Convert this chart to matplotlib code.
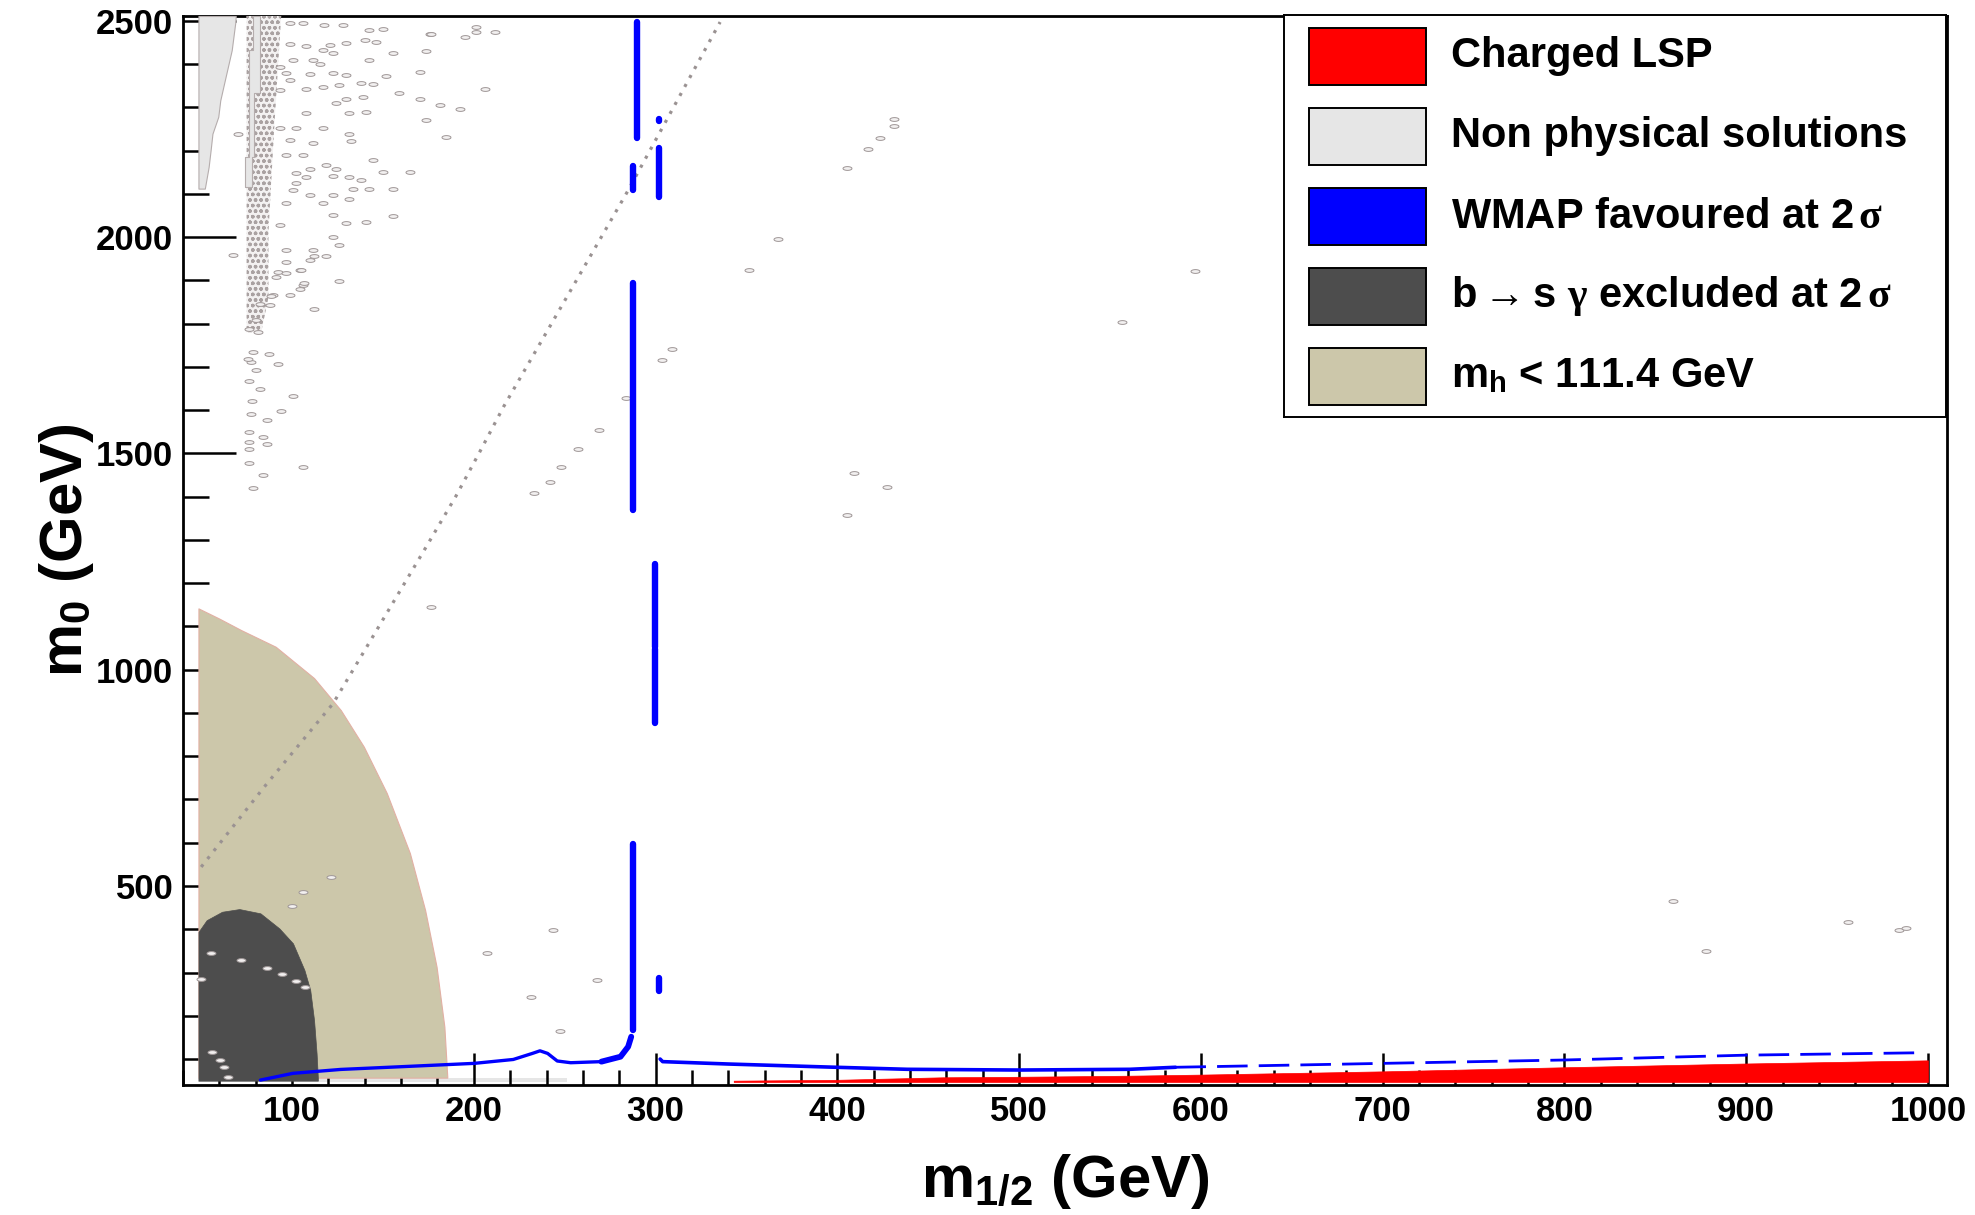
import numpy as np
import matplotlib
matplotlib.use('Agg')
import matplotlib.pyplot as plt
from matplotlib.patches import Rectangle
from matplotlib.path import Path
from matplotlib.ticker import MultipleLocator

plt.rcParams['font.family'] = ['Liberation Sans', 'DejaVu Sans']
plt.rcParams['font.weight'] = 'bold'
plt.rcParams['mathtext.fontset'] = 'custom'
plt.rcParams['mathtext.rm'] = 'Liberation Serif'
plt.rcParams['mathtext.it'] = 'Liberation Serif:italic'
plt.rcParams['mathtext.bf'] = 'Liberation Sans:bold'

# ---- data (GeV) ----
# m_h < 111.4 GeV region, upper boundary
mh_x = [48.5, 60, 72, 91, 112.1, 126.8, 139.5, 152.1, 164.8, 173.2, 179.5, 183.8, 185.4]
mh_y = [1141.7, 1118, 1091.5, 1053, 980.6, 906.6, 821.8, 714.8, 576.2, 444.4, 313.4, 174.7, 59]

# b -> s gamma excluded region, upper boundary
bsg_x = [48.5, 53, 61.5, 71, 82.6, 93, 100.5, 106.8, 110, 112.1, 113.5, 114.2]
bsg_y = [394, 421, 440.5, 446.7, 436.8, 402, 367.5, 305.8, 259.5, 190, 113, 55.5]

# non physical solutions: left column (right edge vs m0)
np1_y = [2112, 2162, 2201, 2239, 2278, 2316, 2355, 2432, 2497, 2511]
np1_x = [52, 54.1, 55.2, 56.2, 59.4, 60.5, 62.6, 66.8, 68.8, 69]
# second column
np2_y = [2116, 2185, 2332, 2432, 2511]
np2_l = [74.3, 76.2, 76.2, 78.4, 78.4]
np2_r = [78, 79.3, 82.1, 82.1, 82.1]
# dense speckled strip
dense_y = [1780, 1860, 2010, 2240, 2511]
dense_r = [83, 87, 87, 90, 94]
# thin strip along the bottom
np3_x = [48.5, 251]

# charged LSP region
red_x = [343, 400, 458, 500, 561, 600, 700, 800, 900, 1000]
red_y = [50, 52, 57.8, 59, 61.5, 64, 71.5, 81, 89.7, 97]

# WMAP favoured: vertical bands (x, low, high)
wmap_bar_x = [289.8, 287.7, 301.7, 301.7, 287.8, 299.7, 299.7, 287.8, 301.7]
wmap_bar_lo = [2228, 2108, 2093, 2269, 1368, 876, 1052, 167, 258]
wmap_bar_hi = [2497, 2165, 2206, 2274, 1893, 1048, 1244, 596, 287]
# WMAP favoured: thin branch at low m0
wmap_lo_x = [82.6, 100.5, 126.8, 158.5, 200.2, 221.7, 232.2, 236.4, 240.6, 245.9, 253.3, 270.2, 280.7, 284.9, 286.6]
wmap_lo_y = [51.4, 67, 76, 82, 90, 99, 113, 119, 113, 95.5, 91.5, 94, 105.4, 128.5, 151.6]
wmap_hi_x = [302.5, 303.9, 340, 399, 438.4, 500, 561, 586]
wmap_hi_y = [100, 94, 88.5, 81, 76.3, 74.6, 76.3, 81]
wmap_dash_x = [586, 625, 700, 800, 900, 997]
wmap_dash_y = [81, 84, 90, 97.8, 109, 114.6]

# dotted diagonal contour
diag_x = [50, 84.7, 122.6, 156.4, 173.8, 190, 203.2, 216.4, 253.3, 284.9, 335.5]
diag_y = [544, 729, 922, 1161, 1284, 1400, 1503, 1608, 1877, 2108, 2497]

# isolated scan artefacts
speck_x = [98.6, 105.9, 117.8, 127.9, 142.6, 150.0, 175.7, 194.9, 201.4, 201.4, 98.6, 107.8, 120.6,
           129.8, 139.9, 146.3, 155.5, 173.8, 122.4, 116.9, 100.4, 111.4, 115.1, 142.6, 93.1, 96.7,
           109.6, 122.4, 129.8, 151.8, 170.2, 98.6, 116.9, 126.1, 138.0, 144.5, 107.8, 93.1, 139.0,
           159.1, 170.2, 181.2, 192.2, 124.3, 129.8, 131.6, 140.8, 107.8, 173.8, 93.1, 102.2, 116.9,
           131.6, 184.8, 98.6, 111.4, 132.5, 96.7, 105.9, 144.5, 118.8, 124.3, 150.0, 164.7, 109.6,
           102.2, 107.8, 131.6, 138.0, 102.2, 122.4, 133.4, 142.6, 155.5, 100.4, 109.6, 122.4, 131.6,
           96.7, 116.9, 122.4, 155.5, 129.8, 140.8, 93.1, 122.4, 126.1, 96.7, 111.4, 118.8, 112.3,
           96.7, 109.6, 104.1, 91.2, 126.1, 105.9, 98.6, 89.4, 67.4, 70.1,
           105.0, 92.1, 96.4, 106.8, 104.1, 112.3, 82.1, 88.5, 87.9, 92.1, 87.2, 100.4, 94.0, 86.1,
           83.9, 86.1, 105.9, 83.9, 78.4, 77.5, 82.1, 80.2, 76.2, 76.2, 76.2, 76.2, 76.2, 78.0, 79.9,
           76.5, 81.1, 77.5, 78.4, 75.6,
           176.4, 211.8, 205.9, 309.1, 303.4, 283.9, 269.1, 257.5, 248, 241.7, 233.3,
           431.2, 431.2, 423.4, 417.1, 405.4, 367.1, 351.3, 596.8, 556.8, 409.3, 427.2, 405.3,
           176.4, 121.6, 105.8, 99.9, 243.8, 207.3, 267.6, 231.6, 247.6,
           55.2, 72, 86.4, 94.2, 102.2, 107.3, 50, 55.8, 60.5, 62.8, 64.7,
           860, 878, 955.8, 984.3, 987.8]
speck_y = [2494, 2494, 2490, 2490, 2478, 2480, 2470, 2463, 2473, 2486, 2447, 2441, 2443,
           2449, 2455, 2451, 2426, 2430, 2426, 2432, 2409, 2409, 2401, 2410, 2393, 2380,
           2377, 2380, 2374, 2373, 2382, 2363, 2346, 2351, 2356, 2353, 2343, 2340, 2324,
           2333, 2320, 2305, 2297, 2309, 2320, 2286, 2288, 2286, 2270, 2251, 2251, 2251,
           2238, 2232, 2224, 2218, 2222, 2189, 2189, 2179, 2166, 2158, 2151, 2151, 2158,
           2147, 2139, 2139, 2132, 2125, 2142, 2112, 2112, 2112, 2108, 2097, 2097, 2088,
           2078, 2079, 2051, 2048, 2033, 2035, 2028, 2001, 1981, 1971, 1970, 1956, 1956,
           1943, 1948, 1925, 1908, 1898, 1890, 1866, 1866, 1958, 2238,
           1925, 1920, 1916, 1893, 1881, 1833, 1845, 1863, 1843, 1706, 1729, 1633, 1599, 1578,
           1537, 1521, 1468, 1450, 1419, 1592, 1648, 1692, 1668, 1550, 1527, 1510, 1477, 1621, 1808,
           1788, 1781, 1712, 1735, 1718,
           2470, 2473, 2342, 1741, 1715, 1627, 1554, 1511, 1469, 1434, 1409,
           2273, 2256, 2229, 2204, 2160, 1995, 1924, 1921, 1804, 1455, 1422, 1358,
           1144, 520, 485, 454, 398, 344, 283, 244, 165,
           344, 329, 311, 296.5, 280, 267, 284, 115.5, 97, 81, 59,
           464.5, 349.5, 415.8, 398, 404]

leg_labels = ['Charged LSP', 'Non physical solutions', r'WMAP favoured at 2$\,\mathrm{\sigma}$',
              r'b $\!\!\mathrm{\rightarrow}\!\!$ s $\mathrm{\gamma}$ excluded at 2$\,\mathrm{\sigma}$',
              r'm$_\mathbf{h}$ < 111.4 GeV']
leg_colors = ['#ff0000', '#e6e6e6', '#0000ff', '#4d4d4d', '#ccc7aa']

W, H = 1975, 1215
fig = plt.figure(figsize=(W / 100, H / 100), dpi=100)
ax = fig.add_axes([183 / W, 1 - 1085 / H, (1947 - 183) / W, (1085 - 16) / H])
ax.set_xlim(40, 1010.5)
ax.set_ylim(40, 2511)

# regions
ax.fill_between(np3_x, 46, 57, color='#e6e6e6', lw=0, zorder=1)
ax.fill_between(mh_x, 57, mh_y, facecolor='#ccc7aa', edgecolor='#e2b0a4', lw=0.8, zorder=2)
ax.fill_between(bsg_x, 50, bsg_y, facecolor='#4d4d4d', edgecolor='#4d4d4d', lw=0.5, zorder=3)
ax.fill_betweenx(dense_y, 75, dense_r, facecolor='#f3f1f1', edgecolor='#aaa2a2', hatch='ooo',
                 lw=0, zorder=3)
ax.fill_betweenx(np1_y, 48.5, np1_x, facecolor='#e6e6e6', edgecolor='#b5adad', lw=0.8, zorder=3)
ax.fill_betweenx(np2_y, np2_l, np2_r, facecolor='#e6e6e6', edgecolor='#b5adad', lw=0.8,
                 step='post', zorder=3)
ax.fill_between(red_x, 47, red_y, facecolor='#ff0000', edgecolor='#ff0000', lw=0.5, zorder=3)

# artefacts and dotted contour
t = np.linspace(0, 2 * np.pi, 25)
ell = Path(np.c_[np.cos(t), 0.42 * np.sin(t)])
ax.plot(speck_x, speck_y, ls='none', marker=ell, ms=6.5, mfc='#f2f0f0', mec='#9e9696',
        mew=0.7, zorder=4)
ax.plot(diag_x, diag_y, color='#9a9292', lw=2.3, ls=(0, (1, 2.2)), zorder=4)

# WMAP
ax.vlines(wmap_bar_x, wmap_bar_lo, wmap_bar_hi, colors='#0000ff', lw=4.6, capstyle='round', zorder=5)
ax.plot(wmap_lo_x, wmap_lo_y, color='#0000ff', lw=2.4, solid_capstyle='round', zorder=5)
ax.plot(wmap_lo_x[-4:], wmap_lo_y[-4:], color='#0000ff', lw=4.2, solid_capstyle='round', zorder=5)
ax.plot(wmap_hi_x, wmap_hi_y, color='#0000ff', lw=2.6, solid_capstyle='round', zorder=5)
ax.plot(wmap_dash_x, wmap_dash_y, color='#0000ff', lw=2.0, ls=(0, (11, 4)), zorder=5)

# axes style
for s in ax.spines.values():
    s.set_linewidth(2.0)
ax.xaxis.set_major_locator(MultipleLocator(100))
ax.xaxis.set_minor_locator(MultipleLocator(20))
ax.yaxis.set_major_locator(MultipleLocator(500))
ax.yaxis.set_minor_locator(MultipleLocator(100))
ax.tick_params(axis='both', which='both', direction='in', width=1.8, labelsize=25)
ax.tick_params(axis='y', which='major', length=38, pad=7)
ax.tick_params(axis='y', which='minor', length=19)
ax.tick_params(axis='x', which='major', length=23, pad=7)
ax.tick_params(axis='x', which='minor', length=11)

fig.text(1065 / W, 1 - 1197 / H, r'm$_\mathbf{1/2}$ (GeV)', fontsize=43, ha='center', va='baseline')
fig.text(82 / W, 1 - 550 / H, r'm$_\mathbf{0}$ (GeV)', fontsize=43, rotation=90,
         rotation_mode='anchor', ha='center', va='baseline')

# legend box in image pixel coordinates
lax = fig.add_axes([1284 / W, 1 - 417 / H, (1946 - 1284) / W, (417 - 15) / H])
lax.set_xlim(1284, 1946)
lax.set_ylim(417, 15)
lax.set_xticks([])
lax.set_yticks([])
for s in lax.spines.values():
    s.set_linewidth(1.4)
for i, (lab, col) in enumerate(zip(leg_labels, leg_colors)):
    cy = 56 + 80 * i
    lax.add_patch(Rectangle((1309, cy - 28.5), 117, 57, facecolor=col, edgecolor='black', lw=1.4))
    lax.text(1451, cy + 11.5, lab, fontsize=30, ha='left', va='baseline')

fig.savefig('out.png', dpi=100)
